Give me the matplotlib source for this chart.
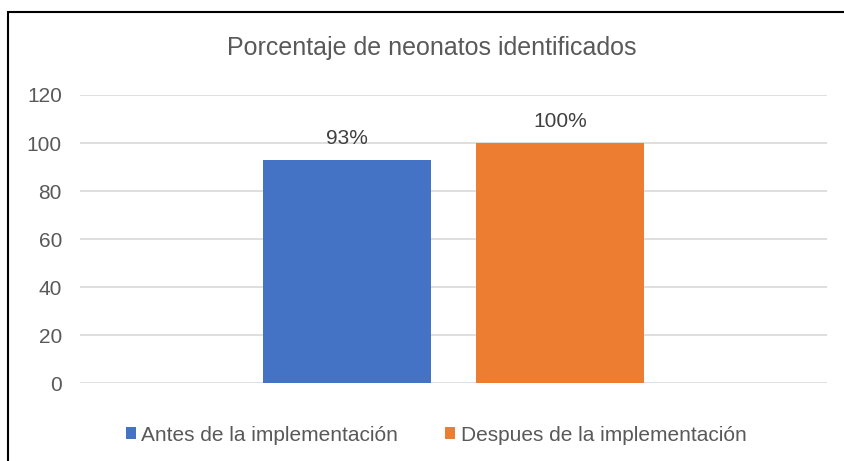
import matplotlib.pyplot as plt
from matplotlib.patches import Rectangle

series = ['Antes de la implementación', 'Despues de la implementación']
values = [93, 100]
labels = ['93%', '100%']
colors = ['#4472C4', '#ED7D31']
yticks = [0, 20, 40, 60, 80, 100, 120]

plt.rcParams['font.family'] = ['Liberation Sans', 'DejaVu Sans']

fig = plt.figure(figsize=(8.45, 4.61), dpi=100)
ax = fig.add_axes([80 / 845, 1 - 383 / 461, 747 / 845, 288 / 461])

# one category, two series side by side
offsets = [-0.1424, 0.1424]
for i in range(len(series)):
    ax.bar(0.5 + offsets[i], values[i], width=0.225, color=colors[i], label=series[i], zorder=3)
    ax.text(0.5 + offsets[i], values[i] + 9, labels[i], ha='center', va='center',
            fontsize=15, color='#404040')

ax.set_xlim(0, 1)
ax.set_ylim(0, 120)
ax.set_yticks(yticks)
ax.set_xticks([])
ax.tick_params(axis='y', length=0, labelsize=15, labelcolor='#595959', pad=13)
ax.grid(axis='y', color='#D9D9D9', linewidth=1.2, zorder=0)
for s in ax.spines.values():
    s.set_visible(False)

fig.text(432 / 845, 1 - 48 / 461, 'Porcentaje de neonatos identificados',
         ha='center', va='center', fontsize=18, color='#595959')

leg = fig.legend(loc='center', bbox_to_anchor=(436 / 845, 1 - 435 / 461), ncol=2,
                 frameon=False, fontsize=15, handlelength=0.5, handleheight=0.5,
                 handletextpad=0.25, columnspacing=2.25)
for t in leg.get_texts():
    t.set_color('#595959')

# chart border (only left and top visible in the crop)
fig.patches.append(Rectangle((8 / 845, -0.05), 1.2, 1 - 12 / 461 + 0.05,
                             transform=fig.transFigure, fill=False,
                             edgecolor='black', linewidth=1.5))

fig.savefig('out.png', dpi=100)
